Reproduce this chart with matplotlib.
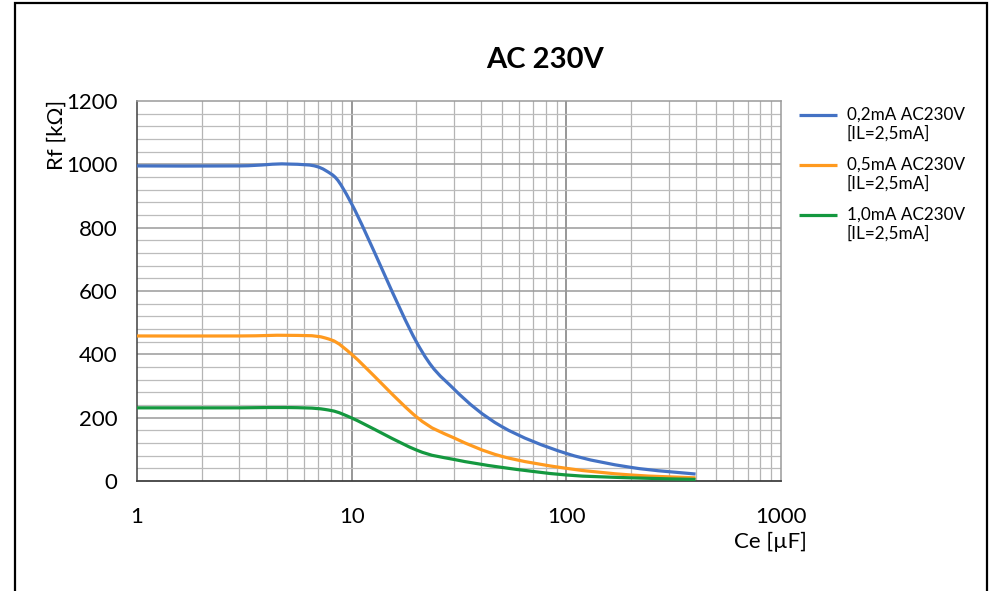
import matplotlib
matplotlib.use("Agg")
import matplotlib.pyplot as plt
from matplotlib.ticker import FixedLocator, NullFormatter, FixedFormatter
from matplotlib.patches import Rectangle, PathPatch
from matplotlib.path import Path
from matplotlib.lines import Line2D
import numpy as np

plt.rcParams['font.family'] = ['Lato', 'DejaVu Sans']

title = "AC 230V"
xlabel = "Ce [µF]"
ylabel = "Rf [kΩ]"

ce_blue = [1, 3, 5, 7.5, 10, 20, 30, 50, 100, 200, 400]
rf_blue = [995, 995, 1001, 982, 875, 440, 290, 172, 87, 43, 22]

ce_orange = [1, 3, 5, 7.5, 10, 20, 30, 50, 100, 200, 400]
rf_orange = [458, 458, 460, 452, 400, 203, 136, 78, 40, 19, 10]

ce_green = [1, 3, 5, 7.5, 10, 20, 30, 50, 100, 200, 400]
rf_green = [231, 231, 232, 226, 199, 98, 68, 43, 19, 10, 5]

label_l1 = ["0,2mA AC230V", "0,5mA AC230V", "1,0mA AC230V"]
label_l2 = ["[IL=2,5mA]", "[IL=2,5mA]", "[IL=2,5mA]"]
colors = ["#4472C4", "#FF9A1F", "#14983F"]

xticks = [1, 10, 100, 1000]
xticklabels = ["1", "10", "100", "1000"]
yticks = [0, 200, 400, 600, 800, 1000, 1200]

W, H = 990, 591
fig = plt.figure(figsize=(W / 100, H / 100), dpi=100)
ax = fig.add_axes([137 / W, 1 - 481 / H, (781 - 137) / W, (481 - 101) / H])

ax.set_xscale('log')
ax.set_xlim(1, 1000)
ax.set_ylim(0, 1200)

# grid
minor_x = [m * 10 ** d for d in range(3) for m in range(2, 10)]
for xv in minor_x:
    ax.axvline(xv, color="#b4b4b4", lw=0.9, zorder=1)
for xv in [10, 100]:
    ax.axvline(xv, color="#858585", lw=1.2, zorder=1)
for yv in np.arange(40, 1200, 40):
    if yv % 200 == 0:
        ax.axhline(yv, color="#9a9a9a", lw=1.1, zorder=1)
    else:
        ax.axhline(yv, color="#bcbcbc", lw=0.9, zorder=1)


def smooth_path(xs, ys, tension=1.0 / 6):
    """Bezier path through the data points (Excel-like smoothing), built in log-x space."""
    lx = np.log10(np.asarray(xs, float))
    y = np.asarray(ys, float)
    n = len(lx)
    verts = [(xs[0], ys[0])]
    codes = [Path.MOVETO]
    for i in range(n - 1):
        i0 = max(i - 1, 0)
        i3 = min(i + 2, n - 1)
        c1x = lx[i] + (lx[i + 1] - lx[i0]) * tension
        c1y = y[i] + (y[i + 1] - y[i0]) * tension
        c2x = lx[i + 1] - (lx[i3] - lx[i]) * tension
        c2y = y[i + 1] - (y[i3] - y[i]) * tension
        verts += [(10 ** c1x, c1y), (10 ** c2x, c2y), (xs[i + 1], ys[i + 1])]
        codes += [Path.CURVE4] * 3
    return Path(verts, codes)


for xs, ys, c in zip([ce_blue, ce_orange, ce_green], [rf_blue, rf_orange, rf_green], colors):
    patch = PathPatch(smooth_path(xs, ys), facecolor='none', edgecolor=c, lw=2.3,
                      zorder=3, capstyle='butt', joinstyle='round')
    ax.add_patch(patch)

ax.xaxis.set_major_locator(FixedLocator(xticks))
ax.xaxis.set_major_formatter(FixedFormatter(xticklabels))
ax.xaxis.set_minor_locator(FixedLocator([]))
ax.xaxis.set_minor_formatter(NullFormatter())
ax.set_yticks(yticks)
ax.set_yticklabels([str(v) for v in yticks])
ax.tick_params(axis='both', length=0, labelsize=16, colors="#000000")
ax.tick_params(axis='x', pad=19)
ax.tick_params(axis='y', pad=14)

for s in ['top', 'right']:
    ax.spines[s].set_color("#9a9a9a")
    ax.spines[s].set_linewidth(1.1)
ax.spines['left'].set_color("#404040")
ax.spines['left'].set_linewidth(1.1)
ax.spines['bottom'].set_color("#404040")
ax.spines['bottom'].set_linewidth(1.3)

fig.text(545 / W, 1 - 60 / H, title, ha='center', va='center', fontsize=21, fontweight='bold')
fig.text(57 / W, 1 - 100 / H, ylabel, ha='center', va='top', rotation=90, fontsize=16)
fig.text(807 / W, 1 - 542 / H, xlabel, ha='right', va='center', fontsize=16)

# legend (manual, Excel-style two-line labels)
for k, (c, t1, t2) in enumerate(zip(colors, label_l1, label_l2)):
    yc = 115 + 50 * k
    fig.add_artist(Line2D([799 / W, 837 / W], [1 - yc / H, 1 - yc / H], color=c, lw=2.3,
                          transform=fig.transFigure, solid_capstyle='butt'))
    fig.text(847 / W, 1 - yc / H, t1, ha='left', va='center', fontsize=12.3)
    fig.text(847 / W, 1 - (yc + 18) / H, t2, ha='left', va='center', fontsize=12.3)

fig.patches.append(Rectangle((15 / W, -0.05), (987 - 15) / W, 1.05 - 3 / H,
                             transform=fig.transFigure, fill=False, edgecolor='black',
                             lw=1.6, zorder=10))

fig.savefig("out.png", dpi=100)
